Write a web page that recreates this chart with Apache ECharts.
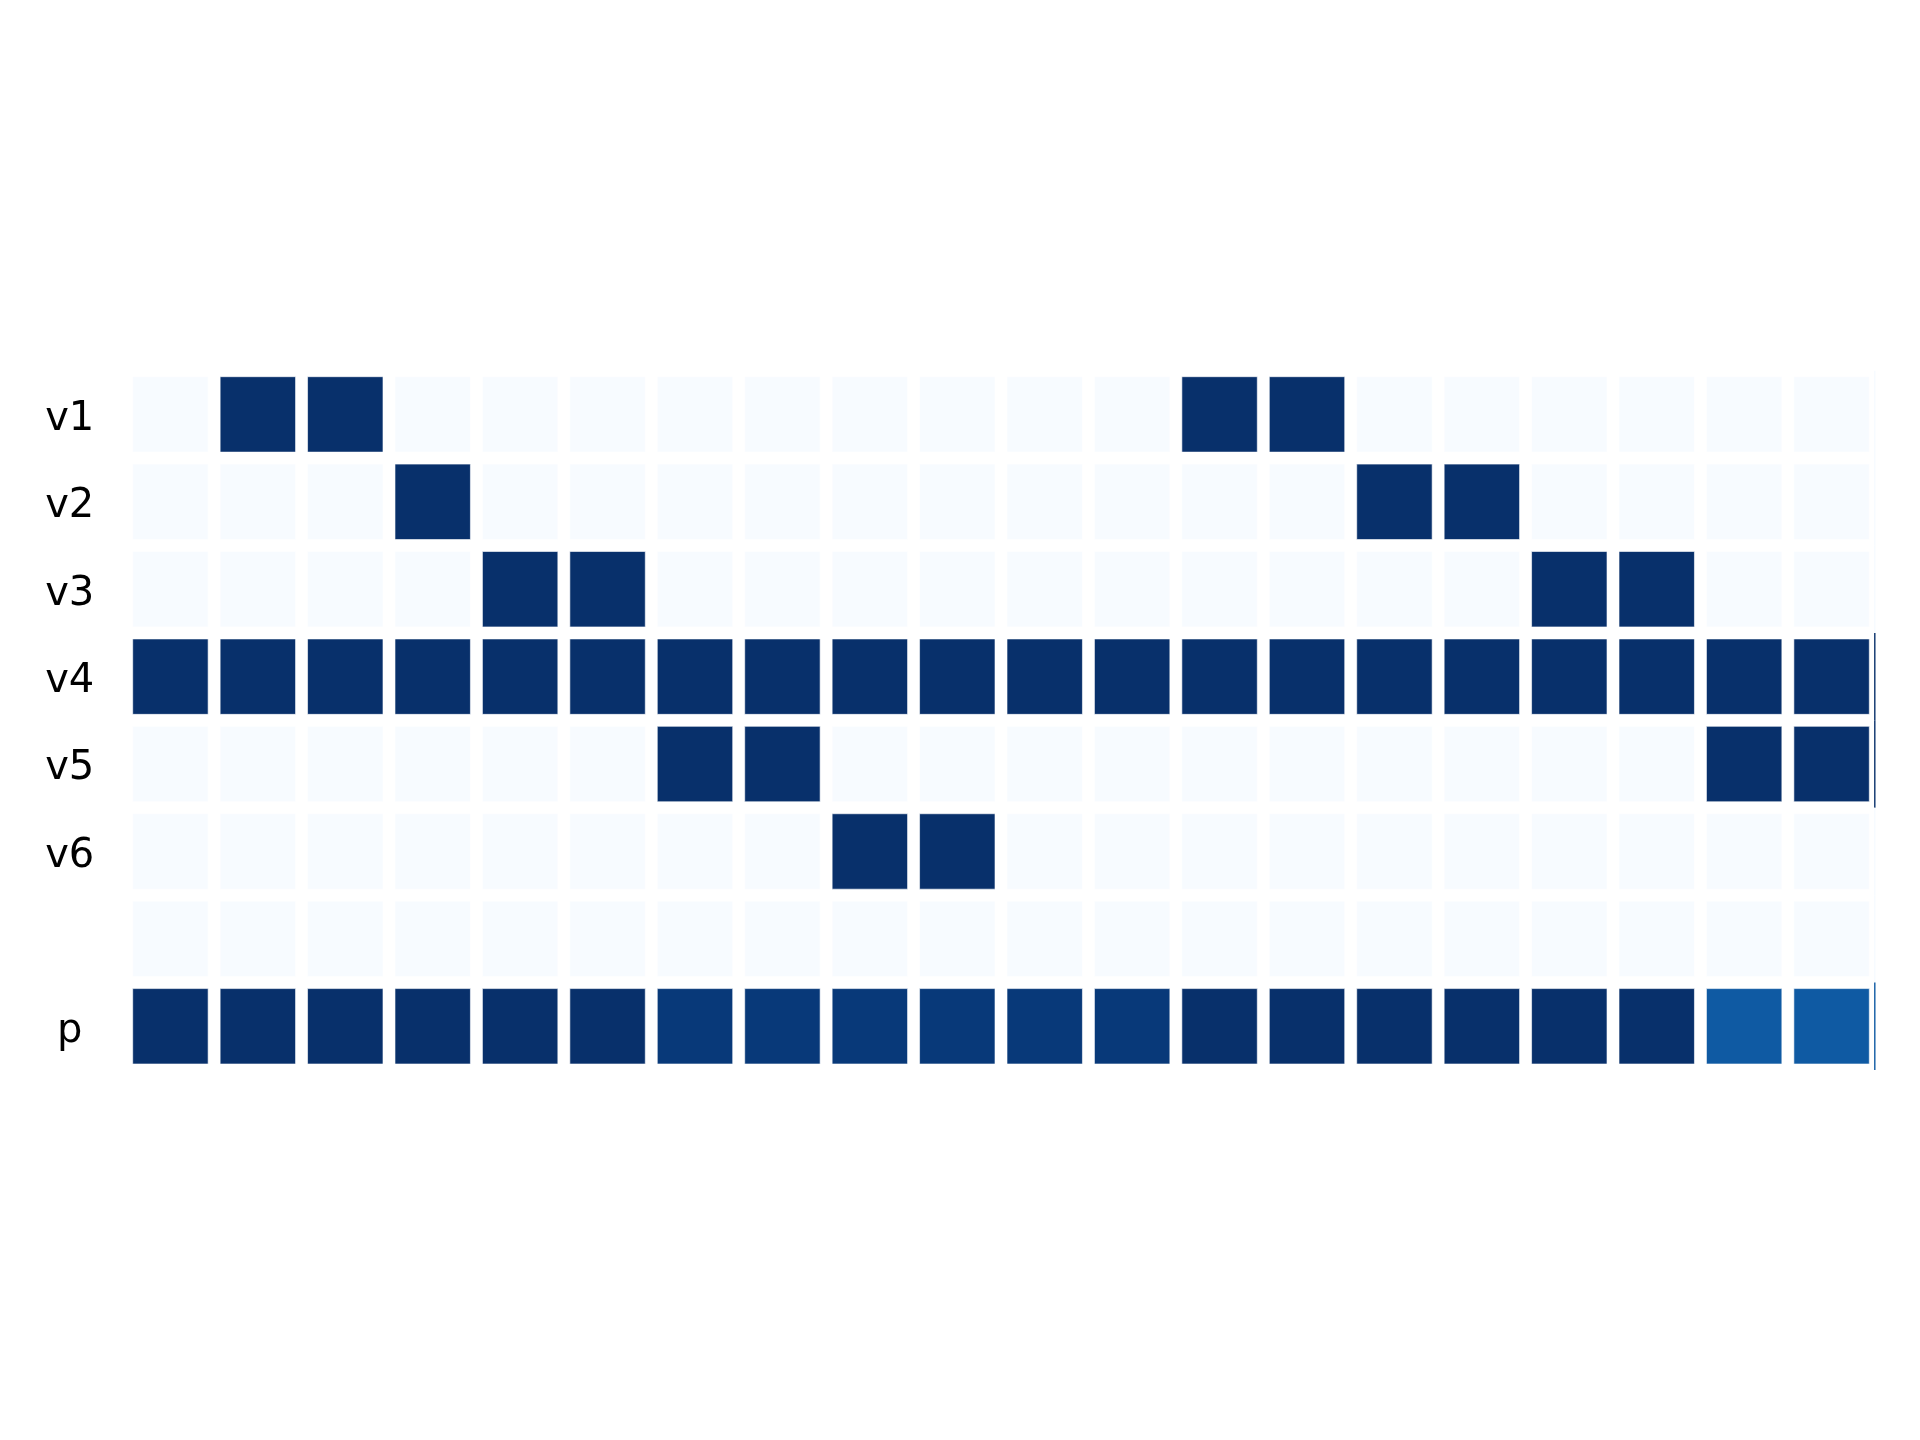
<!DOCTYPE html>
<html>
<head>
<meta charset="utf-8">
<script src="https://cdn.jsdelivr.net/npm/echarts@6/dist/echarts.min.js"></script>
<style>html,body{margin:0;padding:0;background:#fff}#c{width:1920px;height:1440px}</style>
</head>
<body>
<div id="c"></div>
<script>
// Column categories (hidden)
const columns = ['1','2','3','4','5','6','7','8','9','10','11','12','13','14','15','16','17','18','19','20'];
// Row labels (top to bottom)
const rowLabels = ['v1','v2','v3','v4','v5','v6','','p'];
// Row values
const v1 = [0,1,1,0,0,0,0,0,0,0,0,0,1,1,0,0,0,0,0,0];
const v2 = [0,0,0,1,0,0,0,0,0,0,0,0,0,0,1,1,0,0,0,0];
const v3 = [0,0,0,0,1,1,0,0,0,0,0,0,0,0,0,0,1,1,0,0];
const v4 = [1,1,1,1,1,1,1,1,1,1,1,1,1,1,1,1,1,1,1,1];
const v5 = [0,0,0,0,0,0,1,1,0,0,0,0,0,0,0,0,0,0,1,1];
const v6 = [0,0,0,0,0,0,0,0,1,1,0,0,0,0,0,0,0,0,0,0];
const blank = [0,0,0,0,0,0,0,0,0,0,0,0,0,0,0,0,0,0,0,0];
const p = [1,1,1,1,1,1,0.965,0.965,0.965,0.965,0.965,0.965,1,1,1,1,1,1,0.84,0.84];

const rows = [v1, v2, v3, v4, v5, v6, blank, p];
const data = [];
rows.forEach((r, ri) => r.forEach((v, ci) => data.push([ci, ri, v])));

const blues = ['#f7fbff','#deebf7','#c6dbef','#9ecae1','#6baed6','#4292c6','#2171b5','#08519c','#08306b'];

const chart = echarts.init(document.getElementById('c'), null, {renderer: 'canvas'});
const lastCol = columns.length - 1;
chart.setOption({
  animation: false,
  backgroundColor: '#ffffff',
  grid: {left: 126.7, right: 44.7, top: 370.7, bottom: 370},
  xAxis: {
    type: 'category', data: columns,
    axisLine: {show: false}, axisTick: {show: false}, axisLabel: {show: false}, splitLine: {show: false}
  },
  yAxis: {
    type: 'category', data: rowLabels, inverse: true,
    axisLine: {show: false}, axisTick: {show: false}, splitLine: {show: false},
    axisLabel: {
      show: true, align: 'center', verticalAlign: 'middle', margin: 57,
      formatter: function (v) { return v ? '{t|' + v + '}' : ''; },
      rich: {t: {fontFamily: 'DejaVu Sans', fontSize: 40, color: '#000000', padding: [10, 0, 0, 0]}},
      fontFamily: 'DejaVu Sans', fontSize: 40, color: '#000000'
    }
  },
  visualMap: {
    show: false, type: 'continuous', min: 0, max: 1, dimension: 2,
    inRange: {color: blues}
  },
  series: [{
    type: 'custom',
    data: data,
    encode: {x: 0, y: 1},
    renderItem: function (params, api) {
      const c = api.coord([api.value(0), api.value(1)]);
      const s = api.size([1, 1]);
      const w = s[0], h = s[1];
      const inset = 6;
      const color = api.visual('color');
      const children = [{
        type: 'rect',
        shape: {x: c[0] - w / 2 + inset, y: c[1] - h / 2 + inset, width: w - 2 * inset, height: h - 2 * inset},
        style: {fill: color, stroke: 'rgba(255,255,255,0.6)', lineWidth: 1}
      }];
      if (api.value(0) === lastCol) {
        const xe = c[0] + w / 2 - 0.5;
        children.push({
          type: 'line',
          shape: {x1: xe, y1: c[1] - h / 2, x2: xe, y2: c[1] + h / 2},
          style: {stroke: color, lineWidth: 1.4}
        });
      }
      return {type: 'group', children: children};
    }
  }]
});
</script>
</body>
</html>
